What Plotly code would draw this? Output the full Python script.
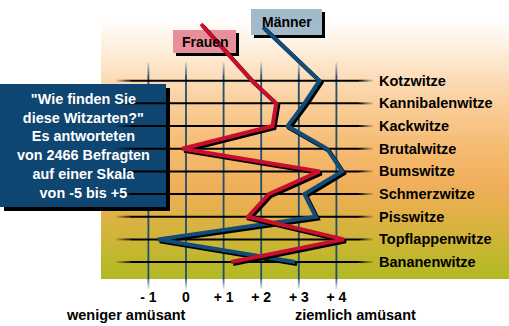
import plotly.graph_objects as go

# Umfrage: "Wie finden Sie diese Witzarten?" (Skala -5 bis +5)
categories = ["Kotzwitze", "Kannibalenwitze", "Kackwitze", "Brutalwitze", "Bumswitze",
              "Schmerzwitze", "Pisswitze", "Topflappenwitze", "Bananenwitze"]
frauen = [1.75, 2.4, 2.3, -0.1, 3.55, 2.2, 1.65, 4.2, 1.2]
maenner = [3.55, 3.15, 2.7, 3.75, 4.15, 3.15, 3.45, -0.75, 2.9]

x_ticks = [-1, 0, 1, 2, 3, 4]
x_ticktext = ["- 1", "0", "+ 1", "+ 2", "+ 3", "+ 4"]

# ---- page geometry -------------------------------------------------------
W, H = 509, 326
ML, MR, MT, MB = 101, 0, 0, 47
PW, PH = W - ML - MR, H - MT - MB
X0_PX, UNIT = 186.0, 37.6       # pixel of value 0, pixels per scale point
Y0_PX, STEP = 80.7, 22.67       # pixel of first category, pixels per row

x_range = [(ML - X0_PX) / UNIT, (W - MR - X0_PX) / UNIT]
y_range = [(H - MB - Y0_PX) / STEP, (MT - Y0_PX) / STEP]   # reversed


def px_x(px):
    return (px - ML) / PW


def px_y(py):
    return 1 - (py - MT) / PH


def data_x(px):
    return (px - X0_PX) / UNIT


def data_y(py):
    return (py - Y0_PX) / STEP


RED = "#C8102E"
BLUE = "#124C78"
BOX_BLUE = "#0E4571"
FONT = "Liberation Sans, Arial, sans-serif"

shapes = []

# ---- background: vertical gradient white -> orange -> yellow-green --------
stops = [(0, (255, 255, 255)), (18, (255, 255, 255)), (45, (254, 241, 226)),
         (75, (252, 222, 188)), (110, (249, 203, 148)), (150, (245, 186, 112)),
         (185, (240, 175, 90)), (210, (228, 176, 74)), (235, (210, 180, 58)),
         (258, (192, 183, 44)), (279, (178, 185, 34))]


def grad_color(py):
    for (p0, c0), (p1, c1) in zip(stops[:-1], stops[1:]):
        if p0 <= py <= p1:
            t = (py - p0) / (p1 - p0) if p1 > p0 else 0
            c = [round(a + (b - a) * t) for a, b in zip(c0, c1)]
            return "rgb(%d,%d,%d)" % tuple(c)
    return "rgb(%d,%d,%d)" % stops[-1][1]


strip = 3
py = 0
while py < PH:
    shapes.append(dict(type="rect", xref="paper", yref="paper", layer="below",
                       x0=0, x1=1, y0=px_y(py + strip), y1=px_y(py),
                       fillcolor=grad_color(py + strip / 2), line=dict(width=0)))
    py += strip


def faded_segments(a0, a1, fade0, fade1, n=6):
    """Split [a0, a1] into pieces whose opacity ramps up at both ends."""
    segs = []
    for k in range(n):
        s0 = a0 + fade0 * k / n
        s1 = a0 + fade0 * (k + 1) / n
        segs.append((s0, s1, (k + 1) / (n + 1)))
    segs.append((a0 + fade0, a1 - fade1, 1.0))
    for k in range(n):
        s0 = a1 - fade1 * (k + 1) / n
        s1 = a1 - fade1 * k / n
        segs.append((s0, s1, (k + 1) / (n + 1)))
    return segs


# ---- vertical grid lines (scale points) -----------------------------------
for v in x_ticks:
    for s0, s1, op in faded_segments(62, 289, 14, 10):
        shapes.append(dict(type="line", xref="x", yref="paper", layer="below",
                           x0=v, x1=v, y0=px_y(s0), y1=px_y(s1), opacity=op,
                           line=dict(color="#1C4E72", width=1.8)))

# ---- horizontal grid lines (categories) -----------------------------------
for i, _ in enumerate(categories):
    for s0, s1, op in faded_segments(data_x(116), data_x(373), 0.4, 0.35):
        shapes.append(dict(type="line", xref="x", yref="y", layer="below",
                           x0=s0, x1=s1, y0=i, y1=i, opacity=op,
                           line=dict(color="#000000", width=2)))


def shadow_box(x0, y0, x1, y1, fill, off):
    shapes.append(dict(type="rect", xref="paper", yref="paper", layer="below",
                       x0=px_x(x0 + off), x1=px_x(x1 + off),
                       y0=px_y(y1 + off), y1=px_y(y0 + off),
                       fillcolor="#000000", line=dict(width=0)))
    shapes.append(dict(type="rect", xref="paper", yref="paper", layer="below",
                       x0=px_x(x0), x1=px_x(x1), y0=px_y(y1), y1=px_y(y0),
                       fillcolor=fill, line=dict(width=0)))


# question box and series labels
shadow_box(0, 84, 166, 207, BOX_BLUE, 4)
shadow_box(173, 30, 236, 53, "#E8909A", 3)
shadow_box(251, 9, 322, 35, "#A3BACB", 3)

# label anchors where the series lines start
label_anchor = {"Frauen": (data_x(201), data_y(24)),
                "Männer": (data_x(263), data_y(27))}

fig = go.Figure()

dx, dy = 2 / UNIT, 2 / STEP
idx = list(range(len(categories)))
for name, vals, color in [("Männer", maenner, BLUE), ("Frauen", frauen, RED)]:
    ax, ay = label_anchor[name]
    xs = [ax] + vals
    ys = [ay] + idx
    fig.add_trace(go.Scatter(x=[v + dx for v in xs], y=[v + dy for v in ys],
                             mode="lines", line=dict(color="#000000", width=4),
                             hoverinfo="skip", showlegend=False))
    fig.add_trace(go.Scatter(x=xs, y=ys, mode="lines", name=name,
                             line=dict(color=color, width=4), showlegend=False))


def bold(size, color="#000000"):
    return dict(family=FONT, size=size, color=color, weight="bold")


annotations = []
for i, cat in enumerate(categories):
    annotations.append(dict(x=data_x(377), y=i, xref="x", yref="y", text=cat,
                            showarrow=False, xanchor="left", yanchor="middle",
                            font=bold(14.5)))


def label(px, py, text, size, color="#000000", **kw):
    annotations.append(dict(x=px_x(px), y=px_y(py), xref="paper", yref="paper",
                            text=text, showarrow=False, xanchor="center",
                            yanchor="middle", font=bold(size, color), **kw))


label(83, 146,
      "\"Wie finden Sie<br>diese Witzarten?\"<br>Es antworteten<br>"
      "von 2466 Befragten<br>auf einer Skala<br>von -5 bis +5",
      14.4, "#FFFFFF", align="center")
label(205, 42, "Frauen", 14)
label(286.5, 22, "Männer", 14)
label(126, 315, "weniger amüsant", 14.5)
label(355, 315, "ziemlich amüsant", 14.5)

fig.update_layout(
    width=W, height=H,
    margin=dict(l=ML, r=MR, t=MT, b=MB),
    paper_bgcolor="#FFFFFF", plot_bgcolor="rgba(0,0,0,0)",
    shapes=shapes, annotations=annotations,
    xaxis=dict(range=x_range, tickvals=x_ticks, ticktext=x_ticktext,
               showgrid=False, zeroline=False, showline=False, ticks="",
               ticklabelstandoff=8, tickfont=bold(14)),
    yaxis=dict(range=y_range, showgrid=False, zeroline=False, showline=False,
               showticklabels=False, ticks=""),
    showlegend=False,
)

fig.write_html("out.html")
